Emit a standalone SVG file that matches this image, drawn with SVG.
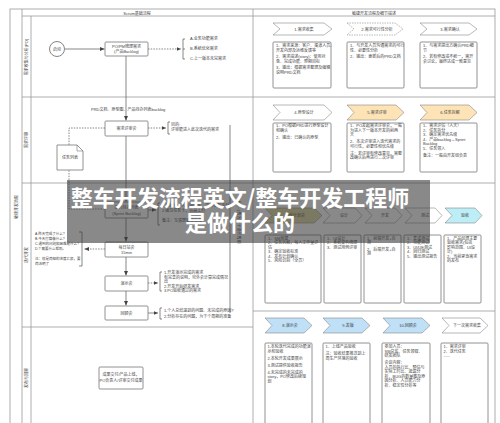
<svg xmlns="http://www.w3.org/2000/svg" width="500" height="423" viewBox="0 0 500 423">
<defs>
<marker id="ah" markerWidth="5" markerHeight="5" refX="4.5" refY="2.5" orient="auto" markerUnits="userSpaceOnUse"><path d="M0,0.5 L4.5,2.5 L0,4.5 Z" fill="#444"/></marker>
<style>
.fr{fill:none;stroke:#9a9a9a;stroke-width:0.8}
.bx{fill:#fff;stroke:#777;stroke-width:0.8}
.ch{stroke:#888;stroke-width:0.6}
.t{font-family:"Liberation Sans","Noto Sans CJK SC",sans-serif;fill:#444}
.s{font-size:4px}
.xs{font-size:3.5px}
.c{text-anchor:middle}
.ln{fill:none;stroke:#555;stroke-width:0.7}
.dl{fill:none;stroke:#555;stroke-width:0.7;stroke-dasharray:1.5,1.2}
</style>
</defs>
<rect width="500" height="423" fill="#fff"/>
<g id="frame">
<rect class="fr" x="10" y="9" width="485" height="420"/>
<line class="fr" x1="22" y1="9" x2="22" y2="423"/>
<line class="fr" x1="31" y1="16" x2="31" y2="423"/>
<line class="fr" x1="22" y1="16" x2="495" y2="16"/>
<line class="fr" x1="253" y1="9" x2="253" y2="423"/>
<line class="fr" x1="22" y1="97" x2="495" y2="97"/>
<line class="fr" x1="22" y1="183" x2="495" y2="183"/>
<line class="fr" x1="22" y1="327" x2="253" y2="327"/>
<line class="fr" x1="253" y1="311" x2="495" y2="311"/>
<text class="t s c" x="137" y="14.5">Scrum基础流程</text>
<text class="t s c" x="374" y="14.5">敏捷开发流程及细节描述</text>
<text class="t s c" transform="translate(17.5,207) rotate(-90)">敏捷开发流程</text>
<text class="t s c" transform="translate(28,57) rotate(-90)">需求收集与分析(PO)</text>
<text class="t s c" transform="translate(28,140) rotate(-90)">需求评审</text>
<text class="t s c" transform="translate(28,255) rotate(-90)">迭代开发</text>
<text class="t s c" transform="translate(28,378) rotate(-90)">发布与回顾</text>
</g>
<g id="connectors">
<line class="ln" x1="65" y1="49" x2="104.5" y2="49" marker-end="url(#ah)"/>
<line class="dl" x1="148" y1="49" x2="181" y2="49" marker-end="url(#ah)"/>
<path class="ln" d="M185,39 H183 V59 H185 M183,49 H185"/>
<line class="ln" x1="126" y1="56" x2="126" y2="120.5" marker-end="url(#ah)"/>
<line class="dl" x1="148" y1="128" x2="166" y2="128" marker-end="url(#ah)"/>
<path class="ln" d="M170,122 H168 V134 H170"/>
<path class="dl" d="M105,128 H69 V209 H104.5"/>
<line class="ln" x1="126" y1="136" x2="126" y2="201.5" marker-end="url(#ah)"/>
<line class="ln" x1="148" y1="210" x2="156" y2="210" marker-end="url(#ah)"/>
<path class="ln" d="M160,203 H158 V225 H160"/>
<line class="ln" x1="126" y1="218" x2="126" y2="241.5" marker-end="url(#ah)"/>
<line class="dl" x1="105" y1="249" x2="84.5" y2="249" marker-end="url(#ah)"/>
<path class="ln" d="M79,232 H82 V266 H79"/>
<line class="ln" x1="126" y1="257" x2="126" y2="275.5" marker-end="url(#ah)"/>
<line class="dl" x1="148" y1="283" x2="158" y2="283" marker-end="url(#ah)"/>
<path class="ln" d="M162,272 H160 V291 H162"/>
<line class="ln" x1="126" y1="291" x2="126" y2="305.5" marker-end="url(#ah)"/>
<line class="ln" x1="148" y1="313" x2="158" y2="313" marker-end="url(#ah)"/>
<path class="ln" d="M162,308 H160 V319 H162"/>
<line class="ln" x1="230" y1="125" x2="230" y2="313"/>
</g>
<g id="start"><circle cx="57" cy="49" r="7.5" fill="#fff" stroke="#666" stroke-width="0.8"/><text class="t s c" x="57" y="50.5">启动</text></g>
<g id="po"><rect class="bx" x="105" y="42" width="43" height="14" rx="1"/><text class="t s c" x="126.5" y="48">PO/PM梳理需求</text><text class="t s c" x="126.5" y="53">(产品Backlog)</text></g>
<g id="needs"><text class="t s" x="190" y="40">A.业务功能需求</text><text class="t s" x="190" y="50">B.系统优化需求</text><text class="t s" x="190" y="60">C.上一版本未完需求</text></g>
<g id="prd"><text class="t s" x="91" y="110.5">PRD文档、原型图、产品待办列表backlog</text></g>
<g id="review"><rect class="bx" x="105" y="121" width="43" height="15" rx="1"/><text class="t s c" x="126.5" y="130">需求评审会</text>
<text class="t s" x="171" y="126">目的:</text><text class="t s" x="171" y="131">评审能进入此次迭代的需求</text></g>
<g id="tasklist"><path d="M57,145 H77 L83,151 V170 H57 Z" fill="#fff" stroke="#777" stroke-width="0.8"/><path d="M77,145 V151 H83" fill="none" stroke="#777" stroke-width="0.6"/><text class="t s c" x="70" y="159">任务列表</text></g>
<g id="sprint"><rect class="bx" x="105" y="202" width="43" height="16" rx="1"/><text class="t s c" x="126.5" y="209">迭代待办列表</text><text class="t s c" x="126.5" y="214.5">(Sprint Backlog)</text>
<text class="t s" x="162" y="207">1.开始每个人认领任务，进行任务拆分</text><text class="t s" x="162" y="212">2.编写任务卡，估算工时</text><text class="t s" x="162" y="222">备注：写清楚验收标准</text></g>
<g id="daily"><rect class="bx" x="105" y="242" width="43" height="15" rx="1"/><text class="t s c" x="126.5" y="248.5">每日站会</text><text class="t s c" x="126.5" y="253.5">15min</text>
<text class="t xs" x="35" y="235">A.昨天完成了什么?</text><text class="t xs" x="35" y="240">B.今天打算做什么?</text><text class="t xs" x="35" y="245">C.遇到的问题和困难是什么?</text><text class="t xs" x="35" y="250">D.?  需要什么帮助。</text><text class="t xs" x="35" y="260">注：就是简短的进度汇报，要</text><text class="t xs" x="35" y="265">简洁明了</text></g>
<g id="demo"><rect class="bx" x="105" y="276" width="43" height="15" rx="1"/><text class="t s c" x="126.5" y="285">演示会</text>
<text class="t s" x="164" y="274">1.开发演示完成的需求</text><text class="t s" x="164" y="278.5">有完善的说明，另外会计算完成情况</text><text class="t s" x="164" y="283">出</text><text class="t s" x="164" y="287.5">2.开发开始研发需求</text><text class="t s" x="164" y="292">3.PO验收通过的需求</text></g>
<g id="retro"><rect class="bx" x="105" y="306" width="43" height="14" rx="1"/><text class="t s c" x="126.5" y="314.5">回顾会</text>
<text class="t s" x="164" y="312">1.个人总结遇到的问题、未完成的原因?</text><text class="t s" x="164" y="318">2.分析存在的问题，为下个周期的准备</text></g>
<g id="cycle"><text class="t s c" transform="translate(237,222) rotate(90)">每1~2周为一个迭代周期</text></g>
<g id="release"><rect class="bx" x="99" y="367" width="44" height="22" rx="1"/><text class="t s c" x="121" y="376">成果交付/产品上线，</text><text class="t s c" x="121" y="381.5">PO负责人/评审交付成果</text></g>
<g id="r1c1"><polygon class="ch" fill="#fff" points="273,23 324,23 332,29 324,35 273,35 280,29"/><text class="t s c" x="304" y="30.5">1.需求收集</text>
<rect class="bx" x="273" y="42" width="58" height="46" rx="1"/><g class="t s"><text x="276" y="47">1、需求来源：客户、渠道人员、</text><text x="276" y="51.5">开发内部及运维反馈等</text><text x="276" y="58">2、需求描述(story)：使用对</text><text x="276" y="62.5">象、完成功能、预期目标</text><text x="276" y="69">3、输出：根据需求整理及编辑</text><text x="276" y="73.5">说明PRD文档</text></g></g>
<g id="r1c2"><polygon class="ch" fill="#fff" stroke-dasharray="1.5,1" points="347,23 395,23 403,29 395,35 347,35 354,29"/><text class="t s c" x="377" y="30.5">2.需求可行性分析</text>
<rect class="bx" x="347" y="42" width="57" height="46" rx="1"/><g class="t s"><text x="350" y="47">1、与开发人员沟通需求的可行</text><text x="350" y="51.5">性、必要性分析</text><text x="350" y="58">2、输出：更新后的PRD文档</text></g></g>
<g id="r1c3"><polygon class="ch" fill="#fff" points="420,23 469,23 477,29 469,35 420,35 427,29"/><text class="t s c" x="450" y="30.5">3.需求确认</text>
<rect class="bx" x="420" y="42" width="57" height="46" rx="1"/><g class="t s"><text x="423" y="47">1、与需求提出方确认PRD细</text><text x="423" y="51.5">节</text><text x="423" y="58">2、若有修改或不统一，需开</text><text x="423" y="62.5">会讨论，最终达成一致意见</text></g></g>
<g id="r2c1"><polygon class="ch" fill="#fff" points="273,105 324,105 332,112.5 324,120 273,120 280,112.5"/><text class="t s c" x="304" y="114">4.原型设计</text>
<rect class="bx" x="273" y="123" width="58" height="49" rx="1"/><g class="t s"><text x="276" y="127">1、PO根据PRD进行原型设计</text><text x="276" y="131.5">和确认</text><text x="276" y="138.5">2、输出：已确认的原型</text></g></g>
<g id="r2c2"><polygon class="ch" fill="#fde3b6" points="347,105 396,105 404,112.5 396,120 347,120 354,112.5"/><text class="t s c" x="377" y="114">5.需求评审</text>
<rect class="bx" x="347" y="123" width="57" height="49" rx="1"/><g class="t s"><text x="350" y="127">1、PO发起需求评审会，一般</text><text x="350" y="131.5">为进入下一版本开发的前两</text><text x="350" y="136">天</text><text x="350" y="143">2、本次评审进入迭代需求的</text><text x="350" y="147.5">可行性，必要性和优先级</text><text x="350" y="154.5">注：若评审有修改意见，需整</text><text x="350" y="159">改确认后再进行二次评审</text></g></g>
<g id="r2c3"><polygon class="ch" fill="#fde3b6" points="420,105 469,105 477,112.5 469,120 420,120 427,112.5"/><text class="t s c" x="450" y="114">6.任务拆解</text>
<rect class="bx" x="420" y="123" width="57" height="49" rx="1"/><g class="t s"><text x="423" y="127">1、需求评估（人天）</text><text x="423" y="131.5">2、任务拆分</text><text x="423" y="136">3、确定需求优先级</text><text x="423" y="140.5">4、产品backlog→Sprint</text><text x="423" y="145">Backlog</text><text x="423" y="149.5">5、任务领入</text><text x="423" y="156.5">备注：一般由开发组负责</text></g></g>
<g id="r3c1"><polygon class="ch" fill="#dcd79c" points="265,208 314,208 322,215.5 314,223 265,223 272,215.5"/><text class="t s c" x="295" y="217">迭代计划会</text>
<rect class="bx" x="265" y="235" width="56" height="68" rx="1"/><g class="t s"><text x="268" y="239.5">1、SM创建</text><text x="268" y="244">2、任务拆解，每人工作量评</text><text x="268" y="248.5">估</text><text x="268" y="253">3、确定验收标准</text><text x="268" y="257.5">4、发布计划确认</text><text x="268" y="262">5、风险识别（全员）</text></g></g>
<g id="r3c2"><polygon class="ch" fill="#fff" points="323,208 355,208 362,215.5 355,223 323,223 330,215.5"/><text class="t s c" x="344" y="217">设计</text>
<rect class="bx" x="324" y="235" width="37" height="68" rx="1"/><g class="t s"><text x="327" y="239.5">1、UI设计</text><text x="327" y="244">2、系统架构梳理</text><text x="327" y="248.5">3、测试用例评审</text></g></g>
<g id="r3c3"><polygon class="ch" fill="#fff" points="365,208 395,208 402,215.5 395,223 365,223 372,215.5"/><text class="t s c" x="385" y="217">开发</text>
<rect class="bx" x="364" y="235" width="37" height="68" rx="1"/><g class="t s"><text x="367" y="239.5">1、前端开发+自</text><text x="367" y="244">测</text><text x="367" y="250.5">2、后端开发+自</text><text x="367" y="255">测</text></g></g>
<g id="r3c4"><polygon class="ch" fill="#fff" points="405,208 435,208 442,215.5 435,223 405,223 412,215.5"/><text class="t s c" x="425" y="217">测试</text>
<rect class="bx" x="404" y="235" width="37" height="68" rx="1"/><g class="t s"><text x="407" y="239.5">1、集成测试</text><text x="407" y="244">2、功能测试</text><text x="407" y="248.5">3、UI/UE测试</text><text x="407" y="253">4、回归测试</text><text x="407" y="257.5">5、输出测试报告</text></g></g>
<g id="r3c5"><polygon class="ch" fill="#bdeef7" points="445,208 475,208 482,215.5 475,223 445,223 452,215.5"/><text class="t s c" x="465" y="217">验收</text>
<rect class="bx" x="444" y="235" width="37" height="68" rx="1"/><g class="t s"><text x="447" y="239.5">1、产品经理主要</text><text x="447" y="244">验收需求(包括</text><text x="447" y="248.5">影响范围、UI设</text><text x="447" y="253">计)</text><text x="447" y="257.5">2、当前紧急需求</text><text x="447" y="262">的发布</text></g></g>
<g id="r4c1"><polygon class="ch" fill="#bfe0f6" points="265,318 304,318 312,325.5 304,333 265,333 272,325.5"/><text class="t s c" x="290" y="327">8.演示会</text>
<rect class="bx" x="265" y="343" width="47" height="85" rx="1"/><g class="t s"><text x="267.5" y="348">1.本轮迭代完成的功能演</text><text x="267.5" y="352.5">示和验收</text><text x="267.5" y="359.5">2.本轮开发成果展示</text><text x="267.5" y="366.5">3.测试提供验收报告</text><text x="267.5" y="373.5">4.未完成的未完成的</text><text x="267.5" y="378">story，PO修改后续规</text><text x="267.5" y="382.5">划</text></g></g>
<g id="r4c2"><polygon class="ch" fill="#bfe0f6" points="323,318 362,318 370,325.5 362,333 323,333 330,325.5"/><text class="t s c" x="348" y="327">9.发版</text>
<rect class="bx" x="323" y="343" width="47" height="85" rx="1"/><g class="t s"><text x="325.5" y="348">1、上线产品验收</text><text x="325.5" y="355">注：验收结果推送到上</text><text x="325.5" y="359.5">周生产环境的验收</text></g></g>
<g id="r4c3"><polygon class="ch" fill="#bfe0f6" points="383,318 422,318 430,325.5 422,333 383,333 390,325.5"/><text class="t s c" x="408" y="327">10.回顾会</text>
<rect class="bx" x="382" y="343" width="48" height="85" rx="1"/><g class="t s"><text x="384.5" y="348">参加人员：</text><text x="384.5" y="352.5">SM总监、任务领取、</text><text x="384.5" y="357">研发团队</text><text x="384.5" y="364">会议内容：</text><text x="384.5" y="368.5">人员的执行比、预估与</text><text x="384.5" y="373">实际工时比、遗漏分</text><text x="384.5" y="377.5">析、BUG的数量图及原</text><text x="384.5" y="382">因分析、人员能力分</text><text x="384.5" y="386.5">析、稳定性分析等</text></g></g>
<g id="r4c4"><polygon class="ch" fill="#fff" points="442,318 480,318 488,325.5 480,333 442,333 449,325.5"/><text class="t s c" x="467" y="327">下一次需求收集</text>
<rect class="bx" x="441" y="343" width="47" height="85" rx="1"/><g class="t s"><text x="443.5" y="348">1、需求评审</text><text x="443.5" y="352.5">2、迭代任务</text><text x="443.5" y="357">......</text></g></g>
<g id="title">
<rect x="67" y="180" width="363" height="63" fill="#3a3a3a" fill-opacity="0.6"/>
<text x="240" y="206" text-anchor="middle" font-family="'Noto Sans CJK SC',sans-serif" font-weight="bold" font-size="22" fill="#fff">整车开发流程英文/整车开发工程师</text>
<text x="240" y="231" text-anchor="middle" font-family="'Noto Sans CJK SC',sans-serif" font-weight="bold" font-size="22" fill="#fff">是做什么的</text>
</g>
</svg>
